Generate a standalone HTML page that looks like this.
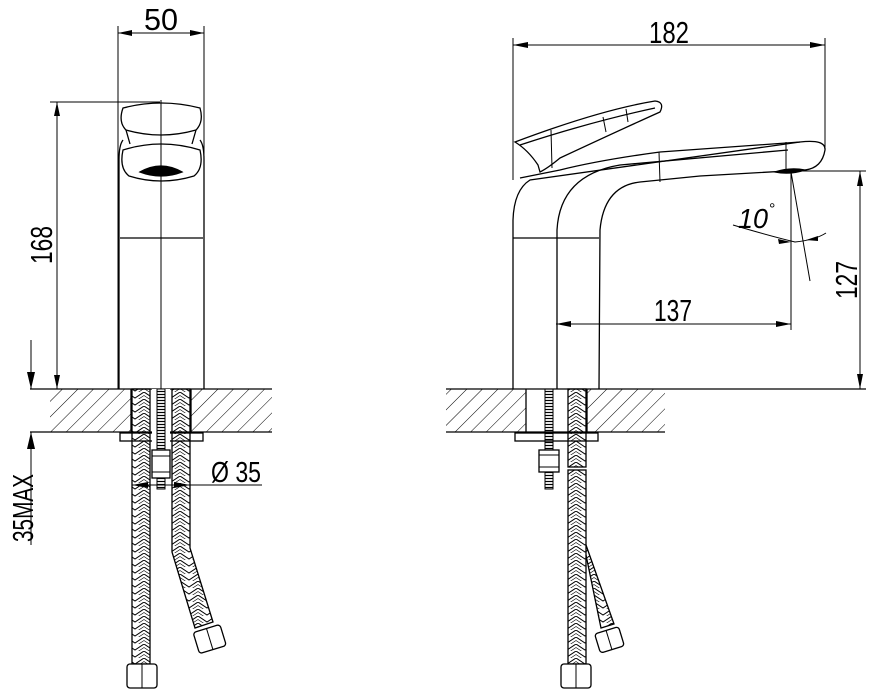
<!DOCTYPE html>
<html><head><meta charset="utf-8"><style>
html,body{margin:0;padding:0;background:#fff;}
svg{display:block;}
text{font-family:"Liberation Sans",sans-serif;fill:#000;}
</style></head><body>
<svg width="869" height="695" viewBox="0 0 869 695" xmlns="http://www.w3.org/2000/svg">
<defs>
<pattern id="hatch" width="11" height="11" patternUnits="userSpaceOnUse" patternTransform="rotate(45)">
<line x1="0" y1="0" x2="0" y2="11" stroke="#000" stroke-width="1"/>
</pattern>
<pattern id="braid" width="18" height="7" patternUnits="userSpaceOnUse">
<polyline points="0,0 9,6 18,0" fill="none" stroke="#000" stroke-width="1"/>
<polyline points="0,3.5 9,9.5 18,3.5" fill="none" stroke="#000" stroke-width="0.6"/>
</pattern>
<pattern id="thread" width="8" height="3" patternUnits="userSpaceOnUse">
<line x1="0" y1="1.5" x2="8" y2="1.5" stroke="#000" stroke-width="1.2"/>
</pattern>
</defs>
<g stroke="#000" fill="none" stroke-width="1.3">

<!-- ===== LEFT VIEW ===== -->
<rect x="50" y="389" width="81" height="43" fill="url(#hatch)" stroke="none"/>
<rect x="191" y="389" width="81" height="43" fill="url(#hatch)" stroke="none"/>
<line x1="30" y1="389" x2="272" y2="389"/>
<line x1="30" y1="432" x2="272" y2="432"/>
<line x1="131" y1="389" x2="131" y2="432"/>
<line x1="191" y1="389" x2="191" y2="432"/>
<rect x="120" y="433" width="83" height="8"/>
<path d="M119,389 L119,160 Q119,145 123,140 M204,389 L204,160 Q204,145 200,140"/>
<line x1="120" y1="238" x2="203" y2="238"/>
<path d="M123,108 Q161,98 200,108 Q204,122 196,130 Q161,140 126,130 Q118,122 123,108 z"/>
<path d="M126,130 L130,144 M196,130 L192,144"/>
<path d="M123,150 Q161,138 200,150 Q204,168 194,176 Q161,186 129,176 Q119,168 123,150 z"/>
<path d="M140,172 Q161,160 182,172 Q161,180 140,172 z" fill="#000"/>
<line x1="161" y1="100" x2="161" y2="389" stroke-width="1"/>
<line x1="118" y1="26" x2="118" y2="389" stroke-width="1"/>
<line x1="204" y1="26" x2="204" y2="389" stroke-width="1"/>
<line x1="118" y1="33" x2="204" y2="33" stroke-width="1"/>
<path d="M118,33 L132,30 L132,36 z M204,33 L190,30 L190,36 z" fill="#000" stroke="none"/>
<line x1="50" y1="102" x2="160" y2="102" stroke-width="1"/>
<line x1="57" y1="102" x2="57" y2="389" stroke-width="1"/>
<path d="M57,102 L54,116 L60,116 z M57,389 L54,375 L60,375 z" fill="#000" stroke="none"/>
<line x1="31" y1="340" x2="31" y2="389" stroke-width="1"/>
<line x1="31" y1="432" x2="31" y2="545" stroke-width="1"/>
<path d="M31,389 L27,372 L35,372 z M31,432 L27,449 L35,449 z" fill="#000" stroke="none"/>
<rect x="132" y="389" width="18" height="275" fill="url(#braid)"/>
<path d="M172,389 L172,552 L195,628 L213,622 L190,548 L190,389 z" fill="url(#braid)"/>
<rect x="152" y="389" width="18" height="98" fill="#fff" stroke="none"/>
<rect x="157" y="389" width="8" height="100" fill="url(#thread)" stroke-width="1"/>
<rect x="152" y="450" width="18" height="28" fill="#fff"/>
<line x1="152" y1="456" x2="170" y2="456" stroke-width="1"/>
<line x1="152" y1="472" x2="170" y2="472" stroke-width="1"/>
<rect x="127" y="664" width="30" height="24" rx="3" fill="#fff"/>
<line x1="142" y1="664" x2="142" y2="688" stroke-width="1"/>
<g transform="rotate(-17 210 640)"><rect x="196" y="628" width="28" height="22" rx="3" fill="#fff"/><line x1="210" y1="628" x2="210" y2="650" stroke-width="1"/></g>
<line x1="132" y1="485" x2="262" y2="485" stroke-width="1"/>
<path d="M132,485 L148,482 L148,488 z M190,485 L174,482 L174,488 z" fill="#000" stroke="none"/>

<!-- ===== RIGHT VIEW ===== -->
<rect x="446" y="389" width="80" height="43" fill="url(#hatch)" stroke="none"/>
<rect x="587" y="389" width="78" height="43" fill="url(#hatch)" stroke="none"/>
<line x1="446" y1="389" x2="866" y2="389"/>
<line x1="446" y1="432" x2="665" y2="432"/>
<line x1="526" y1="389" x2="526" y2="432"/>
<line x1="587" y1="389" x2="587" y2="432"/>
<rect x="515" y="433" width="83" height="8"/>
<path d="M513,389 L513,220 Q514,190 530,180 L800,142 Q826,139 825,150 Q822,168 805,170 L700,176 Q660,180 640,182 Q604,186 600,230 L599,389"/>
<path d="M557,389 L557,230 Q560,175 620,165 L788,150"/>
<path d="M520,178 L560,170 Q600,160 660,152 L800,142"/>
<line x1="513" y1="238" x2="599" y2="238"/>
<line x1="659" y1="152" x2="660" y2="182" stroke-width="1"/>
<line x1="786" y1="142" x2="786" y2="170" stroke-width="1"/>
<path d="M775,172 Q790,167 805,170 Q790,175 775,172 z" fill="#000"/>
<path d="M515,142 Q600,110 655,101 Q665,102 660,112 Q620,130 560,158 Q548,168 540,172 L538,165 Q528,150 515,142 z"/>
<path d="M520,145 Q590,122 655,108"/>
<line x1="551" y1="130" x2="552" y2="168" stroke-width="1"/>
<line x1="603" y1="117" x2="606" y2="132" stroke-width="1"/>
<line x1="626" y1="109" x2="628" y2="122" stroke-width="1"/>
<line x1="513" y1="38" x2="513" y2="180" stroke-width="1"/>
<line x1="825" y1="38" x2="825" y2="147" stroke-width="1"/>
<line x1="513" y1="45" x2="825" y2="45" stroke-width="1"/>
<path d="M513,45 L528,42 L528,48 z M825,45 L810,42 L810,48 z" fill="#000" stroke="none"/>
<line x1="790" y1="171" x2="866" y2="171" stroke-width="1"/>
<line x1="860" y1="171" x2="860" y2="389" stroke-width="1"/>
<path d="M860,171 L857,186 L863,186 z M860,389 L857,374 L863,374 z" fill="#000" stroke="none"/>
<line x1="791" y1="170" x2="791" y2="330" stroke-width="1"/>
<line x1="556" y1="324" x2="791" y2="324" stroke-width="1"/>
<path d="M556,324 L571,321 L571,327 z M791,324 L776,321 L776,327 z" fill="#000" stroke="none"/>
<line x1="791" y1="172" x2="810" y2="281" stroke-width="1"/>
<path d="M733,225 Q770,236 795,242 Q815,240 826,233" stroke-width="1"/>
<path d="M791,242 L778,239 L779,244 z M806,240 L818,236 L818,241 z" fill="#000" stroke="none"/>
<rect x="568" y="389" width="18" height="78" fill="url(#braid)"/>
<rect x="568" y="470" width="18" height="194" fill="url(#braid)"/>
<path d="M586,555 L601,628 L614,624 L586,545" fill="url(#braid)"/>
<rect x="545" y="389" width="8" height="100" fill="url(#thread)" stroke-width="1"/>
<rect x="539" y="450" width="20" height="22" fill="#fff"/>
<line x1="539" y1="455" x2="559" y2="455" stroke-width="1"/>
<line x1="539" y1="467" x2="559" y2="467" stroke-width="1"/>
<rect x="561" y="664" width="30" height="24" rx="3" fill="#fff"/>
<line x1="576" y1="664" x2="576" y2="688" stroke-width="1"/>
<g transform="rotate(-17 609 640)"><rect x="597" y="630" width="25" height="20" rx="3" fill="#fff"/><line x1="609" y1="630" x2="609" y2="650" stroke-width="1"/></g>
</g>

<text x="161" y="30" font-size="31" text-anchor="middle" textLength="34" lengthAdjust="spacingAndGlyphs">50</text>
<text transform="translate(52,245) rotate(-90)" font-size="31" text-anchor="middle" textLength="38" lengthAdjust="spacingAndGlyphs">168</text>
<text transform="translate(33,508) rotate(-90)" font-size="29" text-anchor="middle" textLength="68" lengthAdjust="spacingAndGlyphs">35MAX</text>
<text x="211" y="482" font-size="29" textLength="50" lengthAdjust="spacingAndGlyphs">Ø 35</text>
<text x="669" y="43" font-size="31" text-anchor="middle" textLength="40" lengthAdjust="spacingAndGlyphs">182</text>
<text x="673" y="321" font-size="31" text-anchor="middle" textLength="38" lengthAdjust="spacingAndGlyphs">137</text>
<text transform="translate(857,280) rotate(-90)" font-size="31" text-anchor="middle" textLength="38" lengthAdjust="spacingAndGlyphs">127</text>
<text x="738" y="228" font-size="28" font-style="italic" textLength="30" lengthAdjust="spacingAndGlyphs">10</text>
<text x="769" y="214" font-size="16">°</text>
</svg>
</body></html>
